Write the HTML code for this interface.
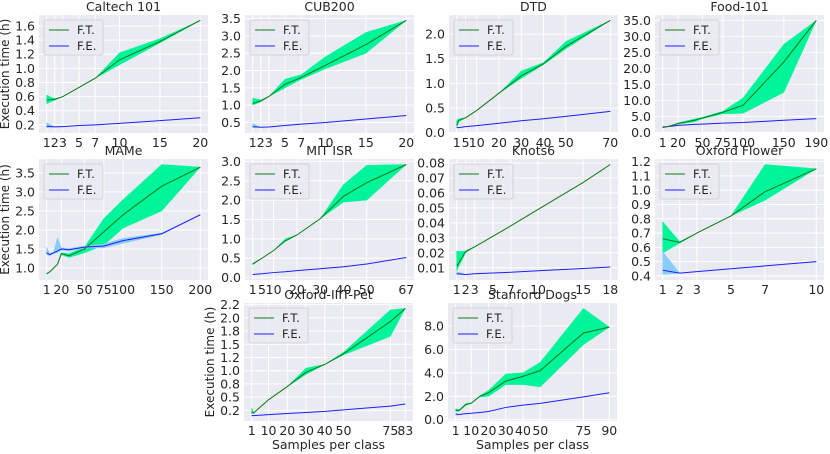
<!DOCTYPE html>
<html><head><meta charset="utf-8">
<style>
html,body{margin:0;padding:0;background:#fff;}
svg{display:block;font-family:"DejaVu Sans","Liberation Sans",sans-serif;}
</style></head>
<body>
<svg id="fig" width="830" height="454" viewBox="0 0 830 454" xmlns="http://www.w3.org/2000/svg"></svg>
<script>
// ---- data arrays ----
const calX=[1,2,3,5,7,10,15,20];
const calFT=[0.55,0.56,0.6,0.73,0.86,1.12,1.38,1.68];
const calFTlo=[0.5,0.55,0.6,0.73,0.86,1.05,1.36,1.68];
const calFThi=[0.62,0.57,0.6,0.73,0.86,1.22,1.42,1.68];
const calFE=[0.18,0.17,0.175,0.19,0.2,0.22,0.26,0.3];
const calFElo=[0.16,0.17,0.175,0.19,0.2,0.22,0.26,0.3];
const calFEhi=[0.23,0.17,0.175,0.19,0.2,0.22,0.26,0.3];

const cubX=[1,2,3,5,7,10,15,20];
const cubFT=[1.05,1.12,1.25,1.6,1.8,2.15,2.75,3.45];
const cubFTlo=[1.0,1.1,1.25,1.5,1.75,2.05,2.5,3.45];
const cubFThi=[1.2,1.15,1.25,1.75,1.88,2.4,3.1,3.45];
const cubFE=[0.38,0.36,0.37,0.41,0.45,0.5,0.6,0.7];
const cubFElo=[0.35,0.36,0.37,0.41,0.45,0.5,0.6,0.7];
const cubFEhi=[0.47,0.36,0.37,0.41,0.45,0.5,0.6,0.7];

const dtdX=[1,2,5,10,20,30,40,50,70];
const dtdFT=[0.15,0.25,0.3,0.45,0.8,1.15,1.4,1.75,2.28];
const dtdFTlo=[0.1,0.22,0.3,0.45,0.8,1.1,1.38,1.7,2.28];
const dtdFThi=[0.25,0.28,0.3,0.45,0.8,1.25,1.42,1.85,2.28];
const dtdFE=[0.1,0.1,0.12,0.14,0.19,0.24,0.28,0.33,0.43];
const dtdFElo=dtdFE, dtdFEhi=dtdFE;

const foodX=[1,10,20,40,50,75,100,150,190];
const foodFT=[1.5,2,2.8,3.8,4.5,6.3,8.5,22,35];
const foodFTlo=[1.5,2,2.6,3.3,4.3,5.8,6,12.5,35];
const foodFThi=[1.5,2,3,4.2,4.7,6.6,10.8,27.5,35];
const foodFE=[1.7,1.9,2.2,2.5,2.6,2.9,3.1,3.8,4.3];
const foodFElo=foodFE, foodFEhi=foodFE;

const mameX=[1,5,10,15,20,30,50,75,100,150,200];
const mameFT=[0.85,0.9,1.0,1.1,1.38,1.32,1.5,1.95,2.4,3.15,3.65];
const mameFTlo=[0.83,0.9,1.0,1.1,1.35,1.28,1.4,1.6,2.05,2.5,3.65];
const mameFThi=[0.87,0.9,1.0,1.1,1.4,1.38,1.55,2.3,2.8,3.72,3.65];
const mameFE=[1.4,1.35,1.4,1.45,1.5,1.48,1.55,1.58,1.72,1.9,2.4];
const mameFElo=[1.35,1.33,1.38,1.4,1.47,1.45,1.52,1.53,1.65,1.88,2.4];
const mameFEhi=[1.55,1.38,1.42,1.8,1.53,1.51,1.58,1.63,1.78,1.92,2.4];

const mitX=[1,5,10,15,20,30,40,50,67];
const mitFT=[0.35,0.5,0.7,0.95,1.1,1.52,2.1,2.45,2.92];
const mitFTlo=[0.33,0.5,0.7,0.93,1.1,1.52,1.95,2.0,2.92];
const mitFThi=[0.37,0.5,0.7,1.0,1.1,1.52,2.4,2.9,2.92];
const mitFE=[0.08,0.1,0.13,0.15,0.18,0.23,0.28,0.35,0.52];
const mitFElo=mitFE, mitFEhi=mitFE;

const knotX=[1,2,3,5,7,10,15,18];
const knotFT=[0.011,0.021,0.024,0.031,0.038,0.049,0.067,0.079];
const knotFTlo=[0.008,0.02,0.024,0.031,0.038,0.049,0.067,0.079];
const knotFThi=[0.021,0.021,0.024,0.031,0.038,0.049,0.067,0.079];
const knotFE=[0.006,0.0055,0.006,0.0065,0.007,0.008,0.0095,0.0105];
const knotFElo=[0.0055,0.0055,0.006,0.0065,0.007,0.008,0.0095,0.0105];
const knotFEhi=[0.0075,0.0055,0.006,0.0065,0.007,0.008,0.0095,0.0105];

const flowX=[1,2,3,5,7,10];
const flowFT=[0.66,0.635,0.7,0.82,0.99,1.15];
const flowFTlo=[0.56,0.63,0.7,0.82,0.93,1.15];
const flowFThi=[0.78,0.64,0.7,0.82,1.18,1.15];
const flowFE=[0.44,0.42,0.43,0.45,0.47,0.5];
const flowFElo=[0.41,0.42,0.43,0.45,0.47,0.5];
const flowFEhi=[0.57,0.42,0.43,0.45,0.47,0.5];

const petX=[1,2,10,20,30,40,50,75,83];
const petFT=[0.22,0.2,0.45,0.7,0.97,1.12,1.32,1.93,2.18];
const petFTlo=[0.18,0.2,0.45,0.7,0.93,1.12,1.3,1.65,2.18];
const petFThi=[0.3,0.2,0.45,0.7,1.05,1.12,1.35,2.15,2.18];
const petFE=[0.15,0.15,0.17,0.19,0.21,0.23,0.26,0.33,0.37];
const petFElo=petFE, petFEhi=petFE;

const dogX=[1,3,7,10,15,20,30,40,50,75,90];
const dogFT=[0.8,0.8,1.3,1.4,2.0,2.3,3.3,3.7,4.2,7.4,7.9];
const dogFTlo=[0.7,0.75,1.25,1.4,1.95,2.0,3.0,3.0,2.8,6.4,7.9];
const dogFThi=[0.95,0.85,1.4,1.45,2.05,2.5,3.9,4.0,4.9,9.5,7.9];
const dogFE=[0.5,0.45,0.52,0.55,0.62,0.7,1.05,1.25,1.4,1.95,2.3];
const dogFElo=[0.35,0.43,0.52,0.55,0.62,0.7,1.05,1.25,1.4,1.95,2.3];
const dogFEhi=dogFE;

// tick arrays
const calXT=[1,2,3,5,7,10,15,20], calYT=[0.2,0.4,0.6,0.8,1.0,1.2,1.4,1.6];
const cubXT=[1,2,3,5,7,10,15,20], cubYT=[0.5,1.0,1.5,2.0,2.5,3.0,3.5];
const dtdXT=[1,5,10,20,30,40,50,70], dtdYT=[0,0.5,1.0,1.5,2.0];
const foodXT=[1,20,50,75,100,150,190], foodYT=[0,5,10,15,20,25,30,35];
const mameXT=[1,20,50,75,100,150,200], mameYT=[1.0,1.5,2.0,2.5,3.0,3.5];
const mitXT=[1,5,10,20,30,40,50,67], mitYT=[0,0.5,1.0,1.5,2.0,2.5,3.0];
const knotXT=[1,2,3,5,7,10,15,18], knotYT=[0.01,0.02,0.03,0.04,0.05,0.06,0.07,0.08];
const flowXT=[1,2,3,5,7,10], flowYT=[0.4,0.5,0.6,0.7,0.8,0.9,1.0,1.1,1.2];
const petXT=[1,10,20,30,40,50,75,83], petYT=[0.25,0.5,0.75,1.0,1.25,1.5,1.75,2.0,2.25];
const petYL=["0.2","0.5","0.8","1.0","1.2","1.5","1.8","2.0","2.2"];
const dogXT=[1,10,20,30,40,50,75,90], dogYT=[0,2,4,6,8];

const NS="http://www.w3.org/2000/svg";
const svg=document.getElementById('fig');
function mk(tag,attrs,parent){const e=document.createElementNS(NS,tag);for(const k in attrs)e.setAttribute(k,attrs[k]);(parent||svg).appendChild(e);return e;}

function panel(opt){
  const {key,title,L,T,W,H,x,ft,ftlo,fthi,fe,felo,fehi,xt,yt,yl,dec,ylab,xlab}=opt;
  const g=mk('g',{});
  
  
  const xmin=Math.min(...x),xmax=Math.max(...x);
  const all=[].concat(ftlo,fthi,felo,fehi,ft,fe);
  const ymin=Math.min(...all),ymax=Math.max(...all);
  const xr=xmax-xmin,yr=ymax-ymin;
  const x0=xmin-0.05*xr,x1=xmax+0.05*xr,y0=ymin-0.05*yr,y1=ymax+0.05*yr;
  const sx=v=>L+(v-x0)/(x1-x0)*W;
  const sy=v=>T+H-(v-y0)/(y1-y0)*H;
  const bg=mk('rect',{x:L,y:T,width:W,height:H,fill:'#eaeaf2'},g);
  
  
  xt.forEach(v=>{
    mk('line',{x1:sx(v),x2:sx(v),y1:T,y2:T+H,stroke:'#fff','stroke-width':1},g);
    const t=mk('text',{x:sx(v),y:T+H+14,'font-size':12.5,'text-anchor':'middle',fill:'#262626'},g);
    t.textContent=String(v);
    
    
  });
  yt.forEach((v,i)=>{
    if(v<y0-1e-9||v>y1+1e-9)return;
    mk('line',{x1:L,x2:L+W,y1:sy(v),y2:sy(v),stroke:'#fff','stroke-width':1},g);
    const t=mk('text',{x:L-4,y:sy(v)+4.5,'font-size':12.5,'text-anchor':'end',fill:'#262626'},g);
    t.textContent=yl?yl[i]:v.toFixed(dec);
    
    
  });
  function band(lo,hi,col,name){
    let d='M'+x.map((v,i)=>sx(v)+','+sy(hi[i])).join('L');
    d+='L'+x.map((v,i)=>sx(v)+','+sy(lo[i])).reverse().join('L')+'Z';
    const p=mk('path',{d:d,fill:col,stroke:col,'stroke-width':0.5},g);
    
    
  }
  function line(vals,col,name){
    const p=mk('polyline',{points:x.map((v,i)=>sx(v)+','+sy(vals[i])).join(' '),fill:'none',stroke:col,'stroke-width':1},g);
    
    
  }
  band(ftlo,fthi,'#00f59a',key+'-ft-band');
  band(felo,fehi,'#87cefa',key+'-fe-band');
  line(fe,'#1f1fff',key+'-fe-line');
  line(ft,'#107a10',key+'-ft-line');
  const tt=mk('text',{x:L+W/2,y:T-4,'font-size':12.5,'text-anchor':'middle',fill:'#262626'},g);
  tt.textContent=title;
  
  
  // legend
  const lg=mk('g',{},g);
  
  
  mk('rect',{x:L+5,y:T+5,width:59,height:35,rx:2,fill:'#eaeaf2','fill-opacity':0.8,stroke:'#cccccc','stroke-width':0.8},lg);
  mk('line',{x1:L+10,x2:L+30,y1:T+15,y2:T+15,stroke:'#107a10','stroke-width':1},lg);
  mk('line',{x1:L+10,x2:L+30,y1:T+31,y2:T+31,stroke:'#1f1fff','stroke-width':1},lg);
  const a=mk('text',{x:L+38,y:T+19,'font-size':11.5,fill:'#262626'},lg);a.textContent='F.T.';
  
  
  const b=mk('text',{x:L+38,y:T+35,'font-size':11.5,fill:'#262626'},lg);b.textContent='F.E.';
  
  
  if(ylab){
    const yy=T+H/2;
    const t=mk('text',{x:L-30,y:yy,'font-size':12,'text-anchor':'middle',fill:'#262626',transform:'rotate(-90 '+(L-30)+' '+yy+')'},g);
    t.textContent='Execution time (h)';
    
    
  }
  if(xlab){
    const t=mk('text',{x:L+W/2,y:T+H+28,'font-size':12.5,'text-anchor':'middle',fill:'#262626'},g);
    t.textContent='Samples per class';
    
    
  }
}
const W=169;
panel({key:'caltech',title:'Caltech 101',L:39,T:15,W:W,H:118,x:calX,ft:calFT,ftlo:calFTlo,fthi:calFThi,fe:calFE,felo:calFElo,fehi:calFEhi,xt:calXT,yt:calYT,dec:1,ylab:true});
panel({key:'cub200',title:'CUB200',L:245,T:15,W:W,H:118,x:cubX,ft:cubFT,ftlo:cubFTlo,fthi:cubFThi,fe:cubFE,felo:cubFElo,fehi:cubFEhi,xt:cubXT,yt:cubYT,dec:1});
panel({key:'dtd',title:'DTD',L:449,T:15,W:W,H:118,x:dtdX,ft:dtdFT,ftlo:dtdFTlo,fthi:dtdFThi,fe:dtdFE,felo:dtdFElo,fehi:dtdFEhi,xt:dtdXT,yt:dtdYT,dec:1});
panel({key:'food101',title:'Food-101',L:655,T:15,W:W,H:118,x:foodX,ft:foodFT,ftlo:foodFTlo,fthi:foodFThi,fe:foodFE,felo:foodFElo,fehi:foodFEhi,xt:foodXT,yt:foodYT,dec:1});
panel({key:'mame',title:'MAMe',L:39,T:159,W:W,H:121,x:mameX,ft:mameFT,ftlo:mameFTlo,fthi:mameFThi,fe:mameFE,felo:mameFElo,fehi:mameFEhi,xt:mameXT,yt:mameYT,dec:1,ylab:true});
panel({key:'mit-isr',title:'MIT ISR',L:245,T:159,W:W,H:121,x:mitX,ft:mitFT,ftlo:mitFTlo,fthi:mitFThi,fe:mitFE,felo:mitFElo,fehi:mitFEhi,xt:mitXT,yt:mitYT,dec:1});
panel({key:'knots6',title:'Knots6',L:449,T:159,W:W,H:121,x:knotX,ft:knotFT,ftlo:knotFTlo,fthi:knotFThi,fe:knotFE,felo:knotFElo,fehi:knotFEhi,xt:knotXT,yt:knotYT,dec:2});
panel({key:'oxford-flower',title:'Oxford Flower',L:655,T:159,W:W,H:121,x:flowX,ft:flowFT,ftlo:flowFTlo,fthi:flowFThi,fe:flowFE,felo:flowFElo,fehi:flowFEhi,xt:flowXT,yt:flowYT,dec:1});
panel({key:'oxford-pet',title:'Oxford-IIIT-Pet',L:244,T:303,W:W,H:118,x:petX,ft:petFT,ftlo:petFTlo,fthi:petFThi,fe:petFE,felo:petFElo,fehi:petFEhi,xt:petXT,yt:petYT,yl:petYL,dec:1,ylab:true,xlab:true});
panel({key:'stanford-dogs',title:'Stanford Dogs',L:448,T:303,W:W,H:118,x:dogX,ft:dogFT,ftlo:dogFTlo,fthi:dogFThi,fe:dogFE,felo:dogFElo,fehi:dogFEhi,xt:dogXT,yt:dogYT,dec:1,xlab:true});
</script>
</body></html>
